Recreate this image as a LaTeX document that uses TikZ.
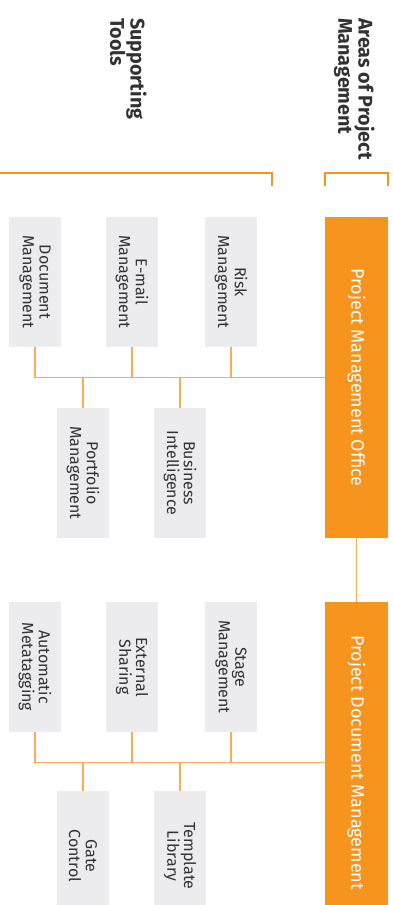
\documentclass[tikz,border=0pt]{standalone}
\usepackage{fontspec}
\setmainfont{Fira Sans}
\usepackage{xcolor}
\usepackage{tikz}
\definecolor{pmorange}{RGB}{247,148,30}
\definecolor{toolgray}{RGB}{236,236,238}
\definecolor{linkorange}{RGB}{249,172,88}
\definecolor{textgray}{RGB}{50,50,50}

\tikzset{
  area/.style={fill=pmorange, rotate=-90, minimum width=240.75pt, minimum height=47.25pt,
    inner sep=0pt, text=white, font=\fontsize{13.5}{16}\selectfont},
  tool/.style={fill=toolgray, rotate=-90, minimum width=97.5pt, minimum height=39pt,
    inner sep=0pt, align=center, text=textgray, font=\fontsize{12}{12.5}\selectfont},
  heading/.style={rotate=-90, anchor=north west, inner sep=0pt, align=left,
    text=textgray, font=\bfseries\fontsize{14.8}{15.2}\selectfont},
  link/.style={draw=linkorange, line width=0.9pt},
  bracket/.style={draw=pmorange, line width=0.8pt}
}

\begin{document}
\begin{tikzpicture}[x=0.75pt, y=-0.75pt]
\useasboundingbox (0,0) rectangle (392,905);
\clip (0,0) rectangle (392,905);

% Headings
\node[heading] (areas) at (375,18) {Areas of Project\\Management};
\node[heading] (support) at (147,18) {Supporting\\Tools};

% Header brackets
\draw[bracket] (0,173) -| (272,186);
\draw[bracket] (325,186) |- (388,173) -- (388,186);

% Project Management Office
\node[area] (pmo) at (356.5,377.5) {Project Management Office};
\node[tool] (doc) at (35,282) {Document\\Management};
\node[tool] (email) at (132,282) {E-mail\\Management};
\node[tool] (risk) at (231,282) {Risk\\Management};
\node[tool] (portfolio) at (83,473) {Portfolio\\Management};
\node[tool] (bi) at (180,473) {Business\\Intelligence};

% Project Document Management
\node[area] (pdm) at (356.5,762.5) {Project Document Management};
\node[tool] (meta) at (35,667) {Automatic\\Metatagging};
\node[tool] (share) at (132,667) {External\\Sharing};
\node[tool] (stage) at (231,667) {Stage\\Management};
\node[tool] (gate) at (83,856) {Gate\\Control};
\node[tool] (template) at (180,856) {Template\\Library};

% Links to the office
\draw[link] (doc.east) |- (pmo.south);
\foreach \t in {email,risk} \draw[link] (\t.east) -- (\t.east |- pmo.south);
\foreach \t in {portfolio,bi} \draw[link] (\t.west) -- (\t.west |- pmo.south);

% Office to document management
\draw[link] (pmo.east) -- (pdm.west);

% Links to document management
\draw[link] (meta.east) |- (pdm.south);
\foreach \t in {share,stage} \draw[link] (\t.east) -- (\t.east |- pdm.south);
\foreach \t in {gate,template} \draw[link] (\t.west) -- (\t.west |- pdm.south);
\end{tikzpicture}
\end{document}
